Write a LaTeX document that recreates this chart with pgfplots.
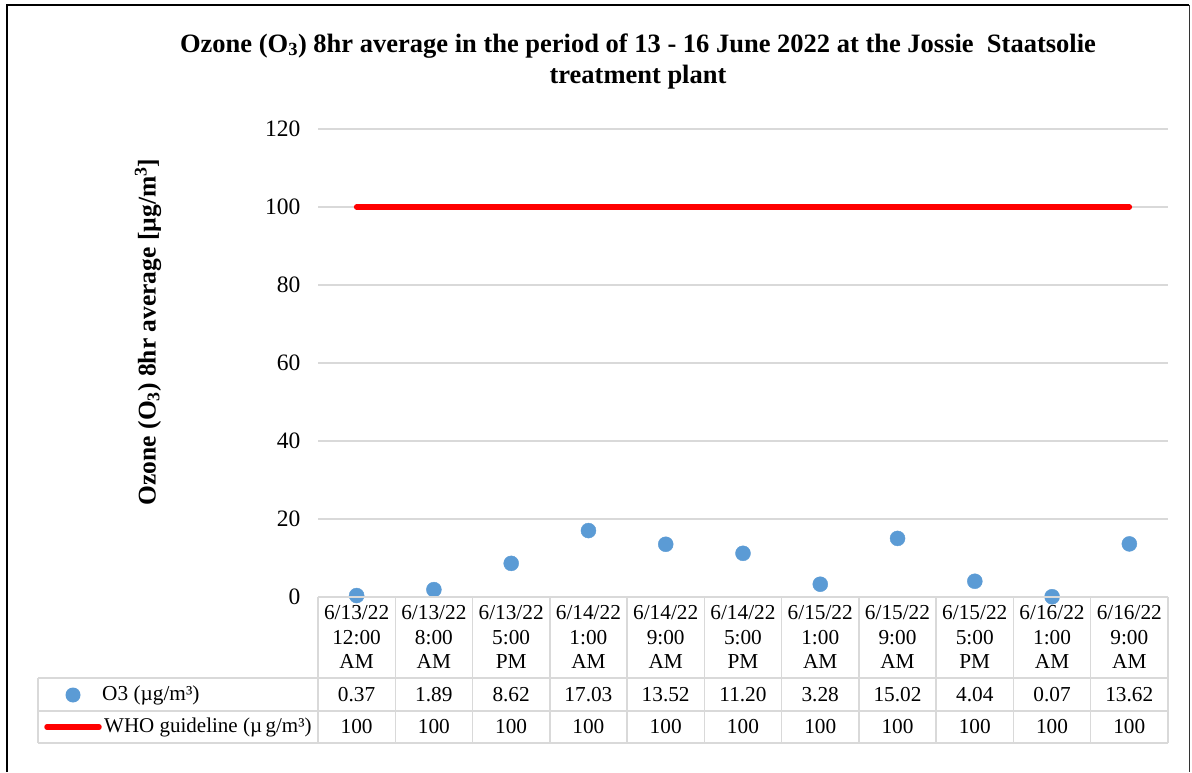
\documentclass[border=0pt]{standalone}
\usepackage{pgfplots}
\usepackage{pgfplotstable}
\pgfplotsset{compat=1.18}
\usepackage{fontspec}
\setmainfont{Liberation Serif}
\definecolor{o3blue}{HTML}{5B9BD5}
\definecolor{gridgray}{HTML}{D9D9D9}

\pgfplotstableread{
x o3 who
0 0.37 100
1 1.89 100
2 8.62 100
3 17.03 100
4 13.52 100
5 11.20 100
6 3.28 100
7 15.02 100
8 4.04 100
9 0.07 100
10 13.62 100
}\datatable

\begin{document}
\begin{tikzpicture}[x=1pt,y=1pt]
\useasboundingbox (0,0) rectangle (1192,772);
\fill[white] (0,0) rectangle (1192,772);
\draw[line width=2.2pt] (7,0) -- (7,767);
\draw[line width=1.3pt] (6,767) -- (1189,767);
\draw[line width=1pt, black!80] (1189,767) -- (1189,0);

\begin{axis}[at={(318pt,175pt)}, anchor=south west, scale only axis,
  width=850pt, height=468pt,
  xmin=-0.5, xmax=10.5, ymin=0, ymax=120,
  ytick={0,20,...,120}, xtick=\empty,
  axis line style={draw=none},
  ymajorgrids, grid style={gridgray, line width=1.2pt},
  major tick length=0pt,
  yticklabel style={font=\fontsize{23.5}{23.5}\selectfont, xshift=-14pt},
  /pgf/number format/assume math mode=true,
  clip=false]
\addplot[red, line width=5.5pt, line cap=round] table[x=x,y=who]{\datatable};
\addplot[only marks, mark=*, mark size=7.5pt, o3blue, mark options={draw=o3blue, fill=o3blue}] table[x=x,y=o3]{\datatable};
\end{axis}

% data table grid
\begin{scope}[gridgray, line width=1.5pt]
\draw (318,175) -- (1168,175);
\draw (38,94) -- (1168,94);
\draw (38,61) -- (1168,61);
\draw (38,29) -- (1168,29);
\draw (38,94) -- (38,29);
\foreach \k in {0,...,11} {
  \draw ({318+77.27*\k},175) -- ({318+77.27*\k},29);
}
\end{scope}

% header labels
\foreach \lab [count=\i from 0] in {
  {6/13/22\\12:00\\AM},{6/13/22\\8:00\\AM},{6/13/22\\5:00\\PM},
  {6/14/22\\1:00\\AM},{6/14/22\\9:00\\AM},{6/14/22\\5:00\\PM},
  {6/15/22\\1:00\\AM},{6/15/22\\9:00\\AM},{6/15/22\\5:00\\PM},
  {6/16/22\\1:00\\AM},{6/16/22\\9:00\\AM}} {
  \node[align=center, font=\fontsize{21.3}{24.5}\selectfont, inner sep=0pt]
    at ({356.6+77.27*\i},135) {\lab};
}
\foreach \v [count=\i from 0] in {0.37,1.89,8.62,17.03,13.52,11.20,3.28,15.02,4.04,0.07,13.62} {
  \node[font=\fontsize{21.3}{24}\selectfont, inner sep=0pt] at ({356.6+77.27*\i},77) {\v};
  \node[font=\fontsize{21.3}{24}\selectfont, inner sep=0pt] at ({356.6+77.27*\i},45) {100};
}

% legend keys
\fill[o3blue] (73,77) circle (7.5);
\node[anchor=west, font=\fontsize{21.3}{24}\selectfont, inner sep=0pt] at (102,77) {O3 (µg/m³)};
\draw[red, line width=5.5pt, line cap=round] (47,45) -- (99,45);
\node[anchor=west, font=\fontsize{21}{24}\selectfont, inner sep=0pt] at (104,45) {WHO guideline (µ\,g/m³)};

% title
\node[align=center, font=\bfseries\fontsize{26.5}{31}\selectfont, inner sep=0pt] at (638,711)
  {Ozone (O\textsubscript{3}) 8hr average in the period of 13 - 16 June 2022 at the Jossie\ \ Staatsolie\\treatment plant};

% y label
\node[rotate=90, font=\bfseries\fontsize{25.5}{26}\selectfont, inner sep=0pt] at (148,440)
  {Ozone (O\textsubscript{3}) 8hr average [µg/m\textsuperscript{3}]};
\end{tikzpicture}
\end{document}
